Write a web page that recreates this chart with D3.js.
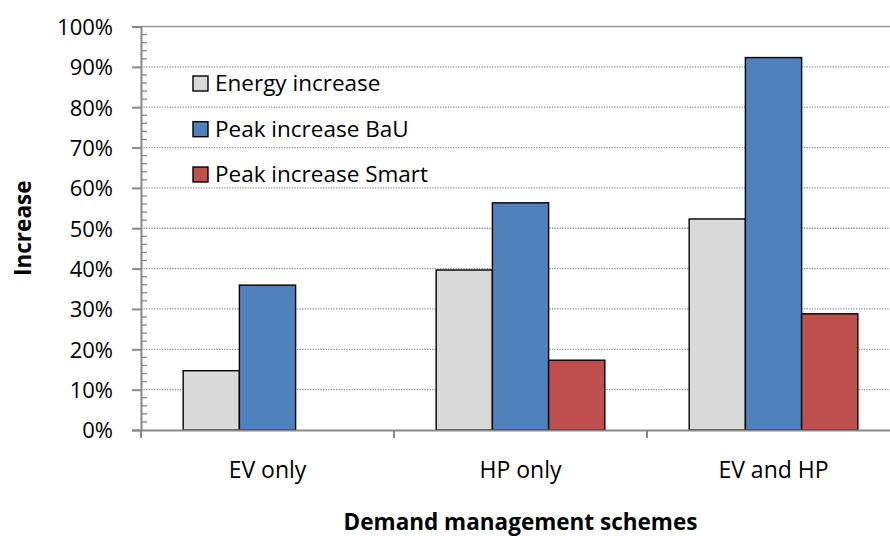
<!DOCTYPE html>
<html><head><meta charset="utf-8">
<script src="https://cdn.jsdelivr.net/npm/d3@7"></script>
<style>body{margin:0;background:#fff}svg{display:block}text{font-family:"Open Sans","Noto Sans",sans-serif;fill:#000}</style>
</head><body><svg id="c" width="890" height="536"></svg>
<script>
const categories = ["EV only", "HP only", "EV and HP"];
const seriesNames = ["Energy increase", "Peak increase BaU", "Peak increase Smart"];
const energyIncrease = [0.147, 0.3965, 0.523];
const peakBaU = [0.359, 0.563, 0.923];
const peakSmart = [0, 0.173, 0.288];
const yTicks = [0,0.1,0.2,0.3,0.4,0.5,0.6,0.7,0.8,0.9,1.0];
const colors = ["#D9D9D9", "#4F81BD", "#C0504D"];
const series = [energyIncrease, peakBaU, peakSmart];

const svg = d3.select("#c");
const L = 141, R = 900, T = 26.5, B = 430;
const x = d3.scaleBand().domain(categories).range([L, R]).paddingInner(0).paddingOuter(0);
const y = d3.scaleLinear().domain([0, 1]).range([B, T]);
const bw = x.bandwidth() / 4.5;
const xs = d3.scaleBand().domain(seriesNames).range([0, bw*3]);

// gridlines
svg.append("g").selectAll("line").data(yTicks.filter(d => d > 0 && d < 1)).join("line")
  .attr("x1", L).attr("x2", R).attr("y1", d => y(d)).attr("y2", d => y(d))
  .attr("stroke", "#8c8c8c").attr("stroke-width", 1.3).attr("stroke-dasharray", "1.3,1.3");
svg.append("line").attr("x1", L).attr("x2", R).attr("y1", y(1)).attr("y2", y(1))
  .attr("stroke", "#999").attr("stroke-width", 1.5);

// minor ticks
const minor = d3.range(0, 50).map(i => i * 0.02).filter((d,i) => i % 5 !== 0);
svg.append("g").selectAll("line").data(minor).join("line")
  .attr("x1", L).attr("x2", L + 6).attr("y1", d => y(d)).attr("y2", d => y(d))
  .attr("stroke", "#888").attr("stroke-width", 1.3);

// bars
categories.forEach((c, ci) => {
  series.forEach((s, si) => {
    if (s[ci] <= 0) return;
    const x0 = x(c) + x.bandwidth()/2 - bw*1.5 + xs(seriesNames[si]);
    svg.append("rect").attr("x", x0).attr("width", bw)
      .attr("y", y(s[ci])).attr("height", y(0) - y(s[ci]))
      .attr("fill", colors[si]).attr("stroke", "#000").attr("stroke-width", 1.4);
  });
});

// y axis
const yAxis = d3.axisLeft(y).tickValues(yTicks).tickFormat(d3.format(".0%")).tickSize(9).tickPadding(19);
const ga = svg.append("g").attr("transform", `translate(${L},0)`).call(yAxis);
ga.attr("font-size", null).attr("font-family", null);
ga.select(".domain").attr("stroke", "#888").attr("stroke-width", 2);
ga.selectAll(".tick line").attr("stroke", "#888").attr("stroke-width", 2);
ga.selectAll(".tick text").attr("font-size", 22).attr("dy", "0.36em");

// x axis
const xAxis = d3.axisBottom(x).tickSize(0).tickPadding(0);
const gx = svg.append("g").attr("transform", `translate(0,${B})`).call(xAxis);
gx.attr("font-size", null).attr("font-family", null);
gx.select(".domain").attr("stroke", "#888").attr("stroke-width", 2);
gx.selectAll(".tick text").attr("font-size", 23).attr("y", 48).attr("dy", 0);
// category separator ticks
svg.append("g").selectAll("line").data(categories.concat(["end"])).join("line")
  .attr("x1", (d,i) => L + i * x.bandwidth()).attr("x2", (d,i) => L + i * x.bandwidth())
  .attr("y1", B).attr("y2", B + 8).attr("stroke", "#888").attr("stroke-width", 2);

// axis titles
svg.append("text").attr("transform", `translate(31,${(T+B)/2}) rotate(-90)`).attr("text-anchor", "middle")
  .attr("font-size", 22.5).attr("font-weight", "bold").text("Increase");
svg.append("text").attr("x", (L+R)/2).attr("y", 530).attr("text-anchor", "middle")
  .attr("font-size", 22.5).attr("font-weight", "bold").text("Demand management schemes");

// legend
const lb = [91, 136.7, 182];
seriesNames.forEach((n, i) => {
  svg.append("rect").attr("x", 193).attr("y", lb[i] - 15).attr("width", 15).attr("height", 15)
    .attr("fill", colors[i]).attr("stroke", "#000").attr("stroke-width", 1.4);
  svg.append("text").attr("x", 215).attr("y", lb[i])
    .attr("font-size", 22.5).text(n);
});
</script></body></html>
